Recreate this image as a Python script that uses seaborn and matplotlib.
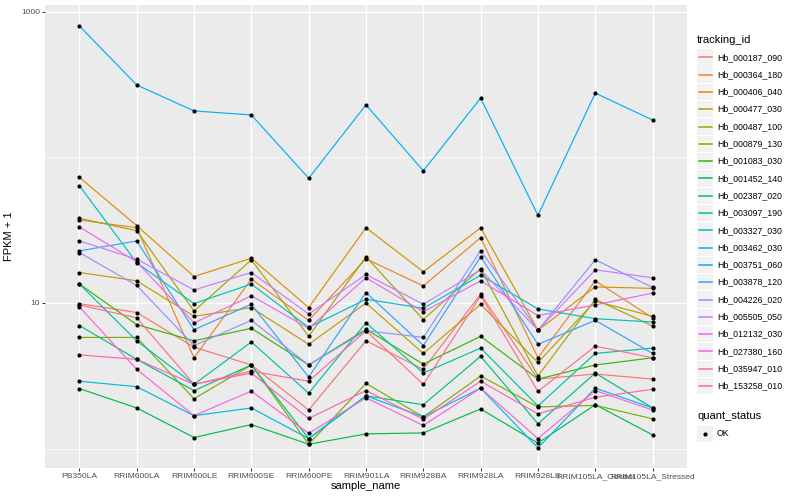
import numpy as np
import pandas as pd
import seaborn as sns
import matplotlib.pyplot as plt
from matplotlib.patches import Rectangle
from matplotlib.ticker import FixedLocator, NullFormatter

# samples on the x axis, in plotting order
samples = ['PB350LA', 'RRIM600LA', 'RRIM600LE', 'RRIM600SE', 'RRIM600PE', 'RRIM901LA',
           'RRIM928BA', 'RRIM928LA', 'RRIM928LE', 'RRIM105LA_Control', 'RRIM105LA_Stressed']

tracking_ids = ['Hb_000187_090', 'Hb_000364_180', 'Hb_000406_040', 'Hb_000477_030',
                'Hb_000487_100', 'Hb_000879_130', 'Hb_001083_030', 'Hb_001452_140',
                'Hb_002387_020', 'Hb_003097_190', 'Hb_003327_030', 'Hb_003462_030',
                'Hb_003751_060', 'Hb_003878_120', 'Hb_004226_020', 'Hb_005505_050',
                'Hb_012132_030', 'Hb_027380_160', 'Hb_035947_010', 'Hb_153258_010']

# ggplot default hue palette for 20 levels
hue_colors = ['#F8766D', '#EA8331', '#D89000', '#C09B00', '#A3A500', '#7CAE00', '#39B600',
              '#00BB4E', '#00BF7D', '#00C1A3', '#00BFC4', '#00BAE0', '#00B0F6', '#35A2FF',
              '#9590FF', '#C77CFF', '#E76BF3', '#FA62DB', '#FF62BC', '#FF6C91']

# FPKM + 1 per gene, one value per sample
hb_000187_090 = [9.9, 8.6, 4.97, 3.75, 1.84, 5.5, 3.5, 11.5, 3.0, 3.25, 3.0]
hb_000364_180 = [37.2, 32.9, 4.2, 14.6, 7.6, 20.1, 13.1, 28.1, 4.2, 14.2, 7.9]
hb_000406_040 = [73.1, 34.0, 15.2, 20.3, 9.3, 32.9, 16.4, 32.9, 6.5, 12.9, 12.6]
hb_000477_030 = [16.2, 14.2, 8.1, 9.3, 5.2, 10.0, 4.5, 9.8, 3.9, 10.3, 8.1]
hb_000487_100 = [38.2, 31.4, 8.8, 19.8, 5.9, 20.8, 7.7, 17.2, 3.15, 10.6, 6.95]
hb_000879_130 = [5.8, 5.8, 2.2, 3.75, 1.07, 2.8, 1.65, 3.15, 1.93, 1.98, 1.6]
hb_001083_030 = [13.5, 7.1, 5.5, 6.7, 3.75, 6.6, 3.8, 5.9, 3.0, 3.75, 4.2]
hb_001452_140 = [2.58, 1.9, 1.19, 1.46, 1.07, 1.26, 1.28, 1.87, 1.09, 2.0, 1.24]
hb_002387_020 = [7.0, 4.1, 2.5, 3.75, 1.17, 2.3, 2.0, 4.3, 1.48, 3.3, 1.9]
hb_003097_190 = [13.5, 5.5, 2.76, 5.4, 2.4, 7.3, 3.3, 4.9, 1.96, 4.5, 4.9]
hb_003327_030 = [64.0, 18.9, 9.9, 13.5, 6.8, 10.6, 9.2, 15.5, 9.1, 7.8, 7.4]
hb_003462_030 = [2.9, 2.66, 1.68, 1.9, 1.17, 2.3, 1.65, 2.6, 1.01, 2.6, 1.9]
hb_003751_060 = [802, 315, 209, 196, 72, 230, 81, 256, 40, 277, 181]
hb_003878_120 = [22.8, 26.7, 6.55, 9.8, 3.1, 11.8, 5.1, 20.8, 5.2, 7.6, 4.5]
hb_004226_020 = [22.2, 13.2, 5.1, 7.6, 3.75, 6.45, 5.8, 22.9, 6.5, 19.8, 12.8]
hb_005505_050 = [26.7, 20.0, 12.3, 16.2, 8.4, 15.7, 9.8, 16.9, 6.5, 16.9, 14.9]
hb_012132_030 = [33.3, 19.2, 7.3, 11.2, 6.7, 14.9, 8.7, 14.2, 8.2, 9.7, 11.7]
hb_027380_160 = [9.4, 3.5, 1.68, 2.48, 1.27, 2.23, 1.44, 2.6, 1.17, 2.5, 1.84]
hb_035947_010 = [4.4, 4.1, 2.76, 3.3, 1.61, 2.5, 1.59, 2.9, 1.73, 2.25, 2.55]
hb_153258_010 = [9.7, 7.9, 2.76, 3.4, 2.9, 6.45, 2.76, 11.2, 2.47, 5.05, 4.2]

series = [hb_000187_090, hb_000364_180, hb_000406_040, hb_000477_030, hb_000487_100,
          hb_000879_130, hb_001083_030, hb_001452_140, hb_002387_020, hb_003097_190,
          hb_003327_030, hb_003462_030, hb_003751_060, hb_003878_120, hb_004226_020,
          hb_005505_050, hb_012132_030, hb_027380_160, hb_035947_010, hb_153258_010]

# long table
rows = []
for tid, vals in zip(tracking_ids, series):
    for pos, (s, v) in enumerate(zip(samples, vals)):
        rows.append({'tracking_id': tid, 'sample_name': s, 'pos': pos, 'fpkm': v, 'quant_status': 'OK'})
df = pd.DataFrame(rows)

plt.rcParams['font.family'] = ['Liberation Sans', 'DejaVu Sans']

fig = plt.figure(figsize=(8, 5), dpi=100)
ax = fig.add_axes([45 / 800, 32 / 500, 642 / 800, 463 / 500])
ax.set_facecolor('#EBEBEB')

sns.lineplot(data=df, x='pos', y='fpkm', hue='tracking_id', hue_order=tracking_ids,
             palette=hue_colors, estimator=None, linewidth=0.85, legend=False, ax=ax)
sns.scatterplot(data=df, x='pos', y='fpkm', color='black', s=9, linewidth=0,
                legend=False, ax=ax, zorder=3)

ax.set_yscale('log')
ax.set_ylim(10 ** -0.134, 10 ** 3.048)
ax.set_xlim(-0.6, len(samples) - 0.4)
ax.yaxis.set_major_locator(FixedLocator([10, 1000]))
ax.set_yticklabels(['10', '1000'])
ax.yaxis.set_minor_locator(FixedLocator([1, 100]))
ax.yaxis.set_minor_formatter(NullFormatter())
ax.set_xticks(range(len(samples)))
ax.set_xticklabels(samples)

ax.grid(which='major', color='white', linewidth=1.0)
ax.grid(which='minor', axis='y', color='white', linewidth=0.5)
ax.set_axisbelow(True)
for sp in ax.spines.values():
    sp.set_visible(False)
ax.tick_params(which='major', length=2, width=0.7, color='#333333', labelsize=6.1,
               labelcolor='#4D4D4D', pad=1.5)
ax.tick_params(which='minor', length=0)
ax.set_xlabel('sample_name', fontsize=8, labelpad=1)
ax.set_ylabel('FPKM + 1', fontsize=8, labelpad=5)

# ggplot-like legends drawn in pixel space on an overlay
lax = fig.add_axes([0, 0, 1, 1], facecolor='none')
lax.set_xlim(0, 800)
lax.set_ylim(500, 0)
lax.axis('off')

lax.text(697, 40, 'tracking_id', fontsize=8, va='center', ha='left')
for i, (tid, col) in enumerate(zip(tracking_ids, hue_colors)):
    yc = 57.3 + 17.3 * i
    lax.add_patch(Rectangle((697, yc - 8.2), 16.4, 16.4, facecolor='#F2F2F2', edgecolor='none'))
    lax.plot([698.5, 711.5], [yc, yc], color=col, linewidth=1.1, zorder=3)
    lax.text(717, yc, tid, fontsize=6.3, va='center', ha='left')

lax.text(697, 416, 'quant_status', fontsize=8, va='center', ha='left')
lax.add_patch(Rectangle((697, 434 - 8.2), 16.4, 16.4, facecolor='#F2F2F2', edgecolor='none'))
lax.scatter([705.2], [434], color='black', s=9, linewidth=0, zorder=3)
lax.text(717, 434, 'OK', fontsize=6.3, va='center', ha='left')

fig.savefig('out.png', dpi=100)
